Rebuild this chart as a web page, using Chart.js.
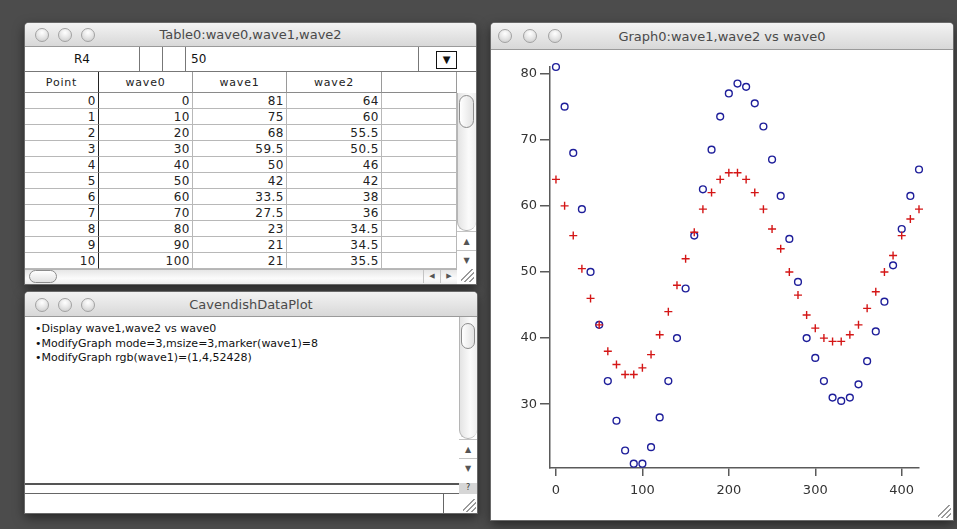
<!DOCTYPE html>
<html><head><meta charset="utf-8">
<script src="https://cdn.jsdelivr.net/npm/chart.js@4.4.1/dist/chart.umd.min.js"></script>
<style>
*{box-sizing:border-box}
html,body{margin:0;padding:0}
body{width:957px;height:529px;background:#4c4c4c;position:relative;overflow:hidden;font-family:"DejaVu Sans",sans-serif}
.win{position:absolute;background:#fff;box-shadow:0 0 0 1px #6a6a6a,0 4px 12px rgba(0,0,0,.55);border-radius:4px 4px 0 0}
.tb{position:absolute;left:0;top:0;right:0;background:linear-gradient(#f3f3f3,#d8d8d8);border-bottom:1px solid #9a9a9a;border-radius:4px 4px 0 0;text-align:center;font-size:13px;color:#4a4a4a}
.tl{position:absolute;width:14px;height:14px;border-radius:50%;border:1px solid #a2a2a2;background:radial-gradient(circle at 50% 30%,#ffffff 0,#e8e8e8 45%,#c8c8c8 100%)}
.abs{position:absolute}
.cell{position:absolute;border-right:1px solid #b8b8b8;border-bottom:1px solid #b8b8b8;font-size:12px;letter-spacing:.5px;color:#222;text-align:right;padding-right:2px;white-space:nowrap;overflow:hidden;line-height:16px}
.hcell{position:absolute;border-right:1px solid #9a9a9a;border-bottom:1px solid #8a8a8a;font-size:11px;letter-spacing:.8px;color:#222;text-align:center;line-height:21px;white-space:nowrap}
.vtrack{position:absolute;background:linear-gradient(90deg,#e4e4e4,#fbfbfb 60%,#eeeeee);border-left:1px solid #b5b5b5}
.thumbv{position:absolute;border:1px solid #8c8c8c;border-radius:8px;background:linear-gradient(90deg,#ffffff,#e2e2e2)}
.arrow{position:absolute;font-size:8px;color:#555;text-align:center;border-top:1px solid #c4c4c4}
.grip{position:absolute;width:13px;height:13px;background:linear-gradient(135deg,transparent 40%,#9a9a9a 40% 47%,transparent 47% 60%,#9a9a9a 60% 67%,transparent 67% 80%,#9a9a9a 80% 87%,transparent 87%)}
.cmd{position:absolute;left:10px;font-size:11px;color:#111;line-height:14.5px;white-space:pre}
</style></head>
<body>
<!-- Table window -->
<div class="win" id="tw" style="left:25px;top:23px;width:451px;height:261px">
  <div class="tb" style="height:24px;line-height:24px">Table0:wave0,wave1,wave2</div>
  <div class="tl" style="left:10px;top:5px"></div>
  <div class="tl" style="left:33px;top:5px"></div>
  <div class="tl" style="left:56px;top:5px"></div>
  <div class="abs" style="left:0;top:24px;width:451px;height:25px;border-bottom:1px solid #777"></div>
  <div class="abs" style="left:0;top:24px;width:115px;height:25px;border-right:1px solid #777;text-align:center;font-size:12px;line-height:25px;color:#111">R4</div>
  <div class="abs" style="left:115px;top:24px;width:23px;height:25px;border-right:1px solid #777"></div>
  <div class="abs" style="left:138px;top:24px;width:23px;height:25px;border-right:1px solid #777"></div>
  <div class="abs" style="left:166px;top:24px;height:25px;font-size:12px;line-height:25px;color:#111">50</div>
  <div class="abs" style="left:393px;top:24px;width:1px;height:25px;background:#777"></div>
  <div class="abs" style="left:411px;top:28px;width:21px;height:18px;border:1.5px solid #111;background:#fff;font-size:10px;line-height:15px;text-align:center;color:#111">&#9660;</div>
  <div id="grid"></div>
  <div class="vtrack" style="left:432px;top:70px;width:19px;height:138px;border-radius:0 0 9px 9px;border-bottom:1px solid #b5b5b5"></div>
  <div class="thumbv" style="left:434px;top:72px;width:15px;height:33px"></div>
  <div class="arrow" style="left:432px;top:208px;width:19px;height:19px;line-height:19px">&#9650;</div>
  <div class="arrow" style="left:432px;top:227px;width:19px;height:19px;line-height:19px">&#9660;</div>
  <div class="abs" style="left:0;top:246px;width:432px;height:15px;background:linear-gradient(#e6e6e6,#fbfbfb 60%,#eeeeee);border-top:1px solid #b5b5b5"></div>
  <div class="abs" style="left:4px;top:247px;width:28px;height:13px;border:1px solid #8c8c8c;border-radius:7px;background:linear-gradient(#ffffff,#e2e2e2)"></div>
  <div class="abs" style="left:398px;top:247px;width:17px;height:13px;font-size:7px;line-height:13px;text-align:center;color:#555;border-left:1px solid #c4c4c4">&#9664;</div>
  <div class="abs" style="left:415px;top:247px;width:17px;height:13px;font-size:7px;line-height:13px;text-align:center;color:#555;border-left:1px solid #c4c4c4">&#9654;</div>
  <div class="grip" style="left:436px;top:246px"></div>
</div>

<!-- Command window -->
<div class="win" style="left:25px;top:292px;width:452px;height:221px">
  <div class="tb" style="height:25px;line-height:25px">CavendishDataPlot</div>
  <div class="tl" style="left:10px;top:6px"></div>
  <div class="tl" style="left:33px;top:6px"></div>
  <div class="tl" style="left:56px;top:6px"></div>
  <div id="cmds"></div>
  <div class="vtrack" style="left:434px;top:25px;width:18px;height:122px;border-radius:0 0 9px 9px;border-bottom:1px solid #b5b5b5"></div>
  <div class="thumbv" style="left:436px;top:31px;width:14px;height:26px"></div>
  <div class="arrow" style="left:434px;top:147px;width:18px;height:19px;line-height:19px">&#9650;</div>
  <div class="arrow" style="left:434px;top:166px;width:18px;height:19px;line-height:19px">&#9660;</div>
  <div class="abs" style="left:0;top:191px;width:434px;height:2px;background:#555"></div>
  <div class="abs" style="left:0;top:201px;width:434px;height:1px;background:#666"></div>
  <div class="abs" style="left:434px;top:191px;width:18px;height:11px;background:#d6d6d6;font-size:8px;line-height:10px;text-align:center;color:#333">?</div>
  <div class="abs" style="left:418px;top:202px;width:1px;height:19px;background:#666"></div>
  <div class="grip" style="left:438px;top:207px"></div>
</div>

<!-- Graph window -->
<div class="win" style="left:491px;top:23px;width:462px;height:497px">
  <div class="tb" style="height:27px;line-height:27px">Graph0:wave1,wave2 vs wave0</div>
  <div class="tl" style="left:7px;top:6px"></div>
  <div class="tl" style="left:32px;top:6px"></div>
  <div class="tl" style="left:57px;top:6px"></div>
  <canvas id="c" width="458" height="466" style="position:absolute;left:1px;top:29px"></canvas>
  <div class="grip" style="left:447px;top:482px"></div>
</div>

<script>
// ---- data ----
const wave0 = [0,10,20,30,40,50,60,70,80,90,100,110,120,130,140,150,160,170,180,190,200,210,220,230,240,250,260,270,280,290,300,310,320,330,340,350,360,370,380,390,400,410,420];
const wave1 = [81,75,68,59.5,50,42,33.5,27.5,23,21,21,23.5,28,33.5,40,47.5,55.5,62.5,68.5,73.5,77,78.5,78,75.5,72,67,61.5,55,48.5,40,37,33.5,31,30.5,31,33,36.5,41,45.5,51,56.5,61.5,65.5];
const wave2 = [64,60,55.5,50.5,46,42,38,36,34.5,34.5,35.5,37.5,40.5,44,48,52,56,59.5,62,64,65,65,64,62,59.5,56.5,53.5,50,46.5,43.5,41.5,40,39.5,39.5,40.5,42,44.5,47,50,52.5,55.5,58,59.5];
const xTicks = [0,100,200,300,400];
const yTicks = [30,40,50,60,70,80];
const tableHeaders = ["Point","wave0","wave1","wave2",""];
const tableRowsShown = 11;
const commandLines = ["\u2022Display wave1,wave2 vs wave0","\u2022ModifyGraph mode=3,msize=3,marker(wave1)=8","\u2022ModifyGraph rgb(wave1)=(1,4,52428)"];

// ---- table ----
const grid = document.getElementById('grid');
const colX = [0,74,168,262,357,432];
let html = '';
for (let c=0;c<5;c++){
  const w = colX[c+1]-colX[c];
  const br = c===0 ? 'border-right-color:#222;' : '';
  html += `<div class="hcell" style="left:${colX[c]}px;top:49px;width:${w}px;height:21px;${br}">${tableHeaders[c]}</div>`;
}
for (let r=0;r<tableRowsShown;r++){
  const vals=[r, wave0[r], wave1[r], wave2[r], ''];
  for (let c=0;c<5;c++){
    const w = colX[c+1]-colX[c];
    const br = c===0 ? 'border-right-color:#222;' : '';
    html += `<div class="cell" style="left:${colX[c]}px;top:${70+r*16}px;width:${w}px;height:16px;${br}">${vals[c]}</div>`;
  }
}
grid.innerHTML = html;
document.getElementById('cmds').innerHTML = commandLines.map((t,i)=>`<div class="cmd" style="top:${30+i*14.5}px">${t}</div>`).join('');

// ---- chart ----
const axisColor = '#5a5a5a';
const tickFont = {family:'DejaVu Sans', size:13};
new Chart(document.getElementById('c'), {
  type:'scatter',
  data:{datasets:[
    {label:'wave1', data: wave0.map((x,i)=>({x:x,y:wave1[i]})), pointStyle:'circle', pointRadius:3.4,
     borderColor:'#1e1e9a', backgroundColor:'rgba(0,0,0,0)', pointBorderWidth:1.4, order:2, clip:false},
    {label:'wave2', data: wave0.map((x,i)=>({x:x,y:wave2[i]})), pointStyle:'cross', pointRadius:4,
     borderColor:'#d41616', backgroundColor:'#d41616', pointBorderWidth:1.4, order:1, clip:false}
  ]},
  options:{
    responsive:false, animation:false, events:[],
    layout:{padding:{left:0,right:31,top:15,bottom:10}},
    plugins:{legend:{display:false}, tooltip:{enabled:false}},
    scales:{
      x:{type:'linear', min:-6.9, max:420,
        afterBuildTicks:s=>{s.ticks = xTicks.map(v=>({value:v}));},
        afterFit:s=>{s.height=40;},
        grid:{drawOnChartArea:false, drawTicks:true, tickLength:8, color:axisColor, lineWidth:1.5},
        border:{display:true, color:axisColor, width:1.5},
        ticks:{padding:7, font:tickFont, color:'#333', maxRotation:0, autoSkip:false}},
      y:{type:'linear', min:20.35, max:81,
        afterBuildTicks:s=>{s.ticks = yTicks.map(v=>({value:v}));},
        afterFit:s=>{s.width=58;},
        grid:{drawOnChartArea:false, drawTicks:true, tickLength:10, color:axisColor, lineWidth:1.5},
        border:{display:true, color:axisColor, width:1.5},
        ticks:{padding:3, font:tickFont, color:'#333', autoSkip:false}}
    }
  }
});
</script>
</body></html>
